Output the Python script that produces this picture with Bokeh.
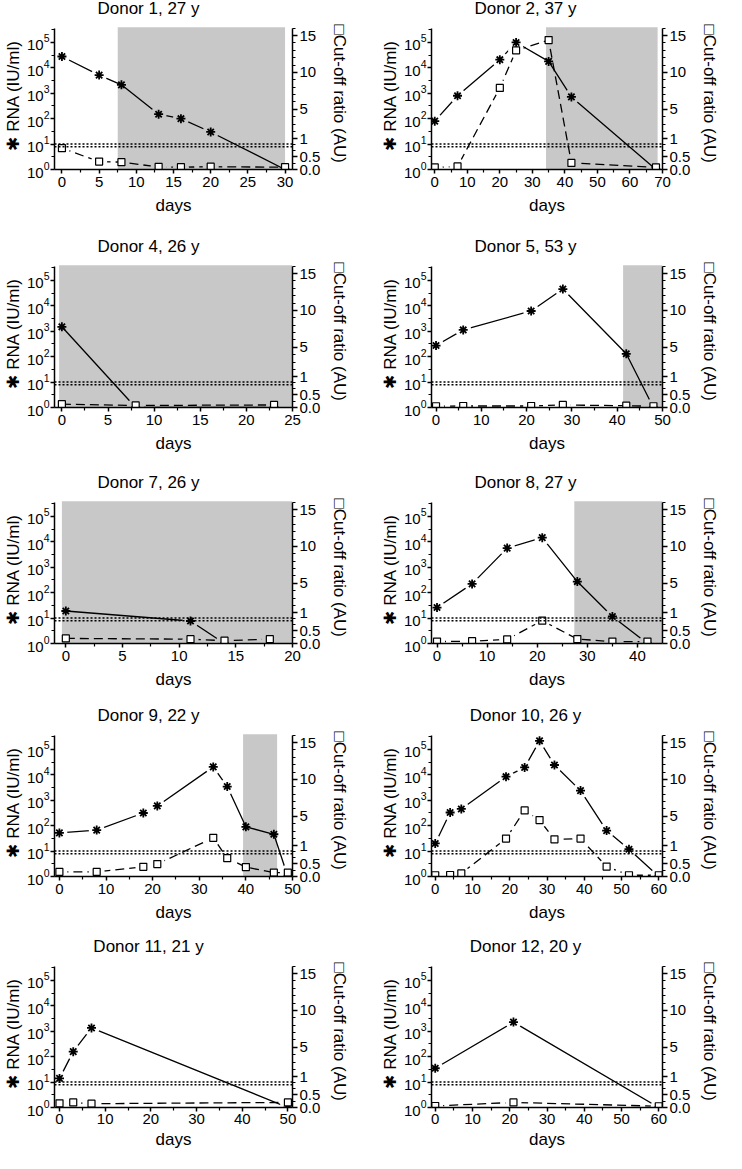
from bokeh.plotting import figure
from bokeh.models import (Range1d, LinearScale, LinearAxis, FixedTicker,
                          BoxAnnotation, Span, Label, Title)
from bokeh.layouts import column, row
from bokeh.embed import file_html
from bokeh.resources import INLINE

# ---------------- data ----------------
d1_title = "Donor 1, 27 y"
d1_rna_days = [0, 5, 8, 13, 16, 20, 30]
d1_rna = [28000, 5200, 2150, 150, 100, 30, 1]
d1_cut_days = [0, 5, 8, 13, 16, 20, 30]
d1_cut = [0.84, 0.31, 0.29, 0.10, 0.09, 0.11, 0.09]
d1_shade = (7.5, 30)
d1_xrange = (-1, 31)
d1_xticks = [0, 5, 10, 15, 20, 25, 30]

d2_title = "Donor 2, 37 y"
d2_rna_days = [0, 7, 20, 25, 35, 42, 68]
d2_rna = [80, 800, 21000, 100000, 18000, 720, 1]
d2_cut_days = [0, 7, 20, 25, 35, 42, 68]
d2_cut = [0.08, 0.12, 7.9, 13.0, 14.4, 0.26, 0.08]
d2_shade = (34.2, 68.5)
d2_xrange = (-1, 70)
d2_xticks = [0, 10, 20, 30, 40, 50, 60, 70]

d4_title = "Donor 4, 26 y"
d4_rna_days = [0, 8, 23]
d4_rna = [1500, 1, 1]
d4_cut_days = [0, 8, 23]
d4_cut = [0.13, 0.08, 0.10]
d4_shade = (-0.3, 25)
d4_xrange = (-0.8, 25)
d4_xticks = [0, 5, 10, 15, 20, 25]

d5_title = "Donor 5, 53 y"
d5_rna_days = [0, 6, 21, 28, 42, 48]
d5_rna = [275, 1130, 6300, 46000, 130, 1]
d5_cut_days = [0, 6, 21, 28, 42, 48]
d5_cut = [0.05, 0.06, 0.06, 0.10, 0.07, 0.05]
d5_shade = (41.3, 50)
d5_xrange = (-1, 50)
d5_xticks = [0, 10, 20, 30, 40, 50]

d7_title = "Donor 7, 26 y"
d7_rna_days = [0, 11, 14]
d7_rna = [19, 7.7, 1]
d7_cut_days = [0, 11, 14, 18]
d7_cut = [0.20, 0.17, 0.11, 0.17]
d7_shade = (-0.35, 20)
d7_xrange = (-1, 20)
d7_xticks = [0, 5, 10, 15, 20]

d8_title = "Donor 8, 27 y"
d8_rna_days = [0, 7, 14, 21, 28, 35, 42]
d8_rna = [26, 222, 5700, 14700, 274, 11.6, 1]
d8_cut_days = [0, 7, 14, 21, 28, 35, 42]
d8_cut = [0.075, 0.09, 0.16, 0.90, 0.175, 0.075, 0.075]
d8_shade = (27.4, 45)
d8_xrange = (-1.1, 45)
d8_xticks = [0, 10, 20, 30, 40]

d9_title = "Donor 9, 22 y"
d9_rna_days = [0, 8, 18, 21, 33, 36, 40, 46, 49]
d9_rna = [52, 67, 316, 600, 20600, 3470, 90, 46, 1]
d9_cut_days = [0, 8, 18, 21, 33, 36, 40, 46, 49]
d9_cut = [0.18, 0.18, 0.38, 0.49, 2.08, 0.72, 0.37, 0.15, 0.15]
d9_shade = (39.4, 46.7)
d9_xrange = (-1.05, 50)
d9_xticks = [0, 10, 20, 30, 40, 50]

d10_title = "Donor 10, 26 y"
d10_rna_days = [0, 4, 7, 19, 24, 28, 32, 39, 46, 52, 60]
d10_rna = [20, 330, 455, 8500, 19600, 219000, 24500, 2400, 64, 11.8, 1]
d10_cut_days = [0, 4, 7, 19, 24, 28, 32, 39, 46, 52, 60]
d10_cut = [0.05, 0.06, 0.12, 1.97, 5.8, 4.48, 1.87, 1.97, 0.39, 0.05, 0.05]
d10_shade = None
d10_xrange = (-1, 61)
d10_xticks = [0, 10, 20, 30, 40, 50, 60]

d11_title = "Donor 11, 21 y"
d11_rna_days = [0, 3, 7, 50]
d11_rna = [14, 158, 1350, 1]
d11_cut_days = [0, 3, 7, 50]
d11_cut = [0.165, 0.20, 0.15, 0.20]
d11_shade = None
d11_xrange = (-1.1, 51)
d11_xticks = [0, 10, 20, 30, 40, 50]

d12_title = "Donor 12, 20 y"
d12_rna_days = [0, 21, 60]
d12_rna = [35, 2300, 1]
d12_cut_days = [0, 21, 60]
d12_cut = [0.06, 0.20, 0.05]
d12_shade = None
d12_xrange = (-1, 61)
d12_xticks = [0, 10, 20, 30, 40, 50, 60]

rna_cutoff = 10            # IU/ml
ratio_cutoff = 0.9         # AU
rna_major = [1, 10, 100, 1000, 10000, 100000]
rna_minor_exp = [0.5, 1.5, 2.5, 3.5, 4.5, 5.5]
ratio_major = [0, 0.5, 1, 5, 10, 15]
ratio_major_labels = ["0.0", "0.5", "1", "5", "10", "15"]
ratio_minor = [0.25, 0.75, 2, 3, 4, 6, 7, 8, 9, 11, 12, 13, 14, 16]

left_label = "\u2731 RNA (IU/ml)"
right_label = "\u25a1Cut-off ratio (AU)"
x_label = "days"

# ---------------- layout constants ----------------
Y_TOP_DEC = 5.55          # top of the plotted area, in decades
PLOT_H = 141              # px of the plotted area
EXT = 28                  # px above the plotted area (title room, inside frame)
EXT_DEC = EXT * Y_TOP_DEC / PLOT_H
FRAME_W = 241
ROW_H = [238, 236, 233, 231, 215]
COL_W = [377, 349]
BORDER_L = 51

FONT = "Liberation Sans"
GREY = "#c8c8c8"


def ratio_pos(r):
    """broken right axis: 0-1 on the lower part, 1-16 on the upper part"""
    if r < 1:
        return r * 1.0
    return 1.21 + 0.29 * (r - 1)


panels = [
    (d1_title, d1_rna_days, d1_rna, d1_cut_days, d1_cut, d1_shade, d1_xrange, d1_xticks),
    (d2_title, d2_rna_days, d2_rna, d2_cut_days, d2_cut, d2_shade, d2_xrange, d2_xticks),
    (d4_title, d4_rna_days, d4_rna, d4_cut_days, d4_cut, d4_shade, d4_xrange, d4_xticks),
    (d5_title, d5_rna_days, d5_rna, d5_cut_days, d5_cut, d5_shade, d5_xrange, d5_xticks),
    (d7_title, d7_rna_days, d7_rna, d7_cut_days, d7_cut, d7_shade, d7_xrange, d7_xticks),
    (d8_title, d8_rna_days, d8_rna, d8_cut_days, d8_cut, d8_shade, d8_xrange, d8_xticks),
    (d9_title, d9_rna_days, d9_rna, d9_cut_days, d9_cut, d9_shade, d9_xrange, d9_xticks),
    (d10_title, d10_rna_days, d10_rna, d10_cut_days, d10_cut, d10_shade, d10_xrange, d10_xticks),
    (d11_title, d11_rna_days, d11_rna, d11_cut_days, d11_cut, d11_shade, d11_xrange, d11_xticks),
    (d12_title, d12_rna_days, d12_rna, d12_cut_days, d12_cut, d12_shade, d12_xrange, d12_xticks),
]


def style_axis(ax):
    ax.axis_line_width = 1.5
    ax.axis_line_color = "black"
    ax.major_tick_line_width = 1.5
    ax.minor_tick_line_width = 1.2
    ax.major_tick_line_color = "black"
    ax.minor_tick_line_color = "black"
    ax.major_tick_in = 0
    ax.major_tick_out = 5
    ax.minor_tick_in = 0
    ax.minor_tick_out = 3
    ax.major_label_text_font = FONT
    ax.major_label_text_font_size = "15px"
    ax.major_label_text_color = "black"
    ax.axis_label_text_font = FONT
    ax.axis_label_text_font_size = "17px"
    ax.axis_label_text_font_style = "normal"
    ax.axis_label_text_color = "black"


HALO_PX = 8


def halo_style(days, shade, xr):
    tol = HALO_PX * (xr[1] - xr[0]) / FRAME_W
    cols, alphas = [], []
    for d in days:
        inside = shade is not None and shade[0] <= d <= shade[1]
        near = shade is not None and (abs(d - shade[0]) < tol or abs(d - shade[1]) < tol)
        cols.append(GREY if inside else "white")
        alphas.append(0.0 if near else 1.0)
    return cols, alphas


def side_title(text, offset, standoff):
    return Title(text=text, align="left", offset=offset, standoff=standoff,
                 vertical_align="bottom", text_font=FONT, text_font_size="17px",
                 text_font_style="normal", text_color="black")


def make_panel(i, title, rdays, rna, cdays, cut, shade, xr, xticks):
    col = i % 2
    r = i // 2
    last = r == 4
    W = COL_W[col]
    H = ROW_H[r]
    p = figure(width=W, height=H, x_range=Range1d(*xr),
               y_range=Range1d(1, 10 ** (Y_TOP_DEC + EXT_DEC)), y_axis_type="log",
               output_backend="svg", toolbar_location=None,
               min_border_left=BORDER_L, min_border_right=W - BORDER_L - FRAME_W,
               min_border_top=0, min_border_bottom=H - EXT - PLOT_H)
    p.outline_line_color = None
    p.grid.visible = False
    p.background_fill_color = "white"
    p.border_fill_color = "white"

    p.extra_y_ranges = {"cut": Range1d(0, Y_TOP_DEC + EXT_DEC)}
    p.extra_y_scales = {"cut": LinearScale()}

    # shaded period
    if shade is not None:
        p.add_layout(BoxAnnotation(left=shade[0], right=shade[1], bottom=1,
                                   top=10 ** (Y_TOP_DEC + 0.05), fill_color=GREY,
                                   fill_alpha=1.0, line_color=None, level="underlay"))

    cut_y = [ratio_pos(v) for v in cut]
    # connecting lines
    p.line(cdays, cut_y, y_range_name="cut", line_color="black", line_width=1.3,
           line_dash="9 5")
    p.line(rdays, rna, line_color="black", line_width=1.3)
    # gaps around the symbols
    hc, ha = halo_style(rdays, shade, xr)
    p.scatter(rdays, rna, marker="circle", size=2 * HALO_PX, fill_color=hc,
              fill_alpha=ha, line_color=None)
    hc, ha = halo_style(cdays, shade, xr)
    p.scatter(cdays, cut_y, y_range_name="cut", marker="circle", size=2 * HALO_PX,
              fill_color=hc, fill_alpha=ha, line_color=None)
    # symbols
    p.scatter(rdays, rna, marker="asterisk", size=9, line_color="black", line_width=1.8)
    p.scatter(cdays, cut_y, y_range_name="cut", marker="square", size=7,
              fill_color="white", line_color="black", line_width=1.2)

    # cut-off lines
    p.add_layout(Span(location=rna_cutoff, dimension="width", line_color="black",
                      line_width=1.5, line_dash="2 2"))
    p.add_layout(Span(location=ratio_pos(ratio_cutoff), y_range_name="cut",
                      dimension="width", line_color="black", line_width=1.5,
                      line_dash="2 2"))

    # bottom axis
    xminor = [(a + b) / 2 for a, b in zip(xticks[:-1], xticks[1:])]
    p.xaxis.ticker = FixedTicker(ticks=xticks, minor_ticks=xminor)
    p.xaxis.axis_label = x_label
    for ax in p.xaxis:
        style_axis(ax)
        ax.major_tick_out = 4
        ax.major_label_standoff = 2 if last else 3
        ax.axis_label_standoff = 3 if last else 6

    # left log axis
    p.yaxis.ticker = FixedTicker(ticks=rna_major,
                                 minor_ticks=[10 ** e for e in rna_minor_exp])
    for ax in p.yaxis:
        style_axis(ax)
        ax.bounds = (1, 10 ** Y_TOP_DEC)
        ax.major_tick_out = 4
        ax.major_label_standoff = 1
    p.add_layout(side_title(left_label, offset=19, standoff=2), "left")

    # right (broken) ratio axis
    rpos = [round(ratio_pos(v), 4) for v in ratio_major]
    rminor = [round(ratio_pos(v), 4) for v in ratio_minor] + [1.0]
    rax = LinearAxis(y_range_name="cut",
                     ticker=FixedTicker(ticks=rpos, minor_ticks=rminor))
    rax.major_label_overrides = {k: lab for k, lab in zip(rpos, ratio_major_labels)}
    style_axis(rax)
    rax.bounds = (0, Y_TOP_DEC)
    rax.major_label_standoff = 2
    p.add_layout(rax, "right")
    p.add_layout(side_title(right_label, offset=EXT - 4, standoff=12), "right")

    # panel title (inside the frame's top strip)
    p.add_layout(Label(x=94, y=PLOT_H + EXT - 8, x_units="screen", y_units="screen",
                       text=title, text_align="center", text_baseline="middle",
                       text_font=FONT, text_font_size="17px", text_color="black"))
    return p


figs = [make_panel(i, *pa) for i, pa in enumerate(panels)]
layout = column(*[row(figs[2 * k], figs[2 * k + 1]) for k in range(5)])

open("out.html", "w").write(file_html(layout, INLINE))
